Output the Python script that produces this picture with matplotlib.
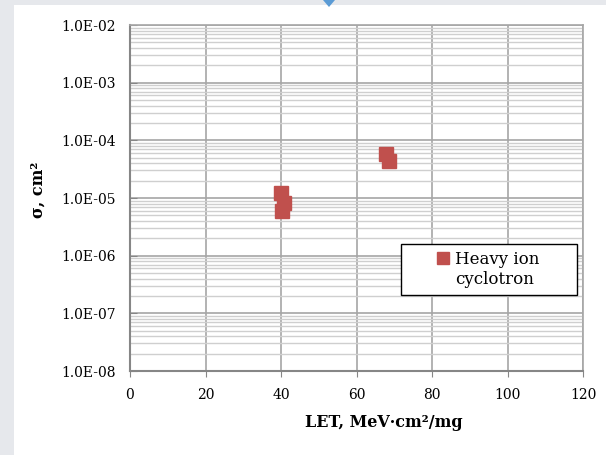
import numpy as np
import matplotlib.pyplot as plt
from matplotlib.patches import Rectangle, Polygon
from matplotlib.lines import Line2D
from matplotlib.ticker import LogLocator, FixedLocator, FuncFormatter

# data
let_values = [39.9, 40.8, 40.3, 67.8, 68.6]
cross_sections = [1.24e-5, 8.1e-6, 6.0e-6, 5.9e-5, 4.45e-5]
series_label = ["Heavy ion", "cyclotron"]
x_ticks = [0, 20, 40, 60, 80, 100, 120]

plt.rcParams['font.family'] = ['DejaVu Serif']

fig = plt.figure(figsize=(6.06, 4.55), dpi=100, facecolor='#e6e8ec')
# white slide panel behind the chart
fig.patches.append(Rectangle((14 / 606, 0), 1 - 14 / 606, 1 - 5 / 455,
                             transform=fig.transFigure, facecolor='white',
                             edgecolor='none', zorder=-2))
fig.patches.append(Polygon([(323 / 606, 1), (335 / 606, 1), (329 / 606, 1 - 7 / 455)],
                           closed=True, transform=fig.transFigure,
                           facecolor='#5b9bd5', edgecolor='none', zorder=-1))

ax = fig.add_axes([130 / 606, 1 - 371 / 455, 453 / 606, 346 / 455])
ax.set_facecolor('white')

pts, = ax.plot(let_values, cross_sections, linestyle='none', marker='s', markersize=9.5,
               color='#c0504d', markeredgecolor='#c0504d', zorder=3)

ax.set_yscale('log')
ax.set_xlim(0, 120)
ax.set_ylim(1e-8, 1e-2)
ax.xaxis.set_major_locator(FixedLocator(x_ticks))
ax.yaxis.set_major_locator(LogLocator(base=10, numticks=10))
ax.yaxis.set_minor_locator(LogLocator(base=10, subs=np.arange(2, 10), numticks=20))
ax.yaxis.set_minor_formatter(FuncFormatter(lambda v, p: ''))
ax.yaxis.set_major_formatter(FuncFormatter(lambda v, p: '1.0E-%02d' % round(-np.log10(v))))

ax.grid(True, which='major', color='#a6a6a6', linewidth=1.2)
ax.grid(True, which='minor', axis='y', color='#cfcfcf', linewidth=1.0)
ax.set_axisbelow(True)

for side in ['left', 'bottom']:
    ax.spines[side].set_color('#868686')
    ax.spines[side].set_linewidth(1.5)
for side in ['top', 'right']:
    ax.spines[side].set_color('#a6a6a6')
    ax.spines[side].set_linewidth(1.2)

ax.tick_params(axis='x', which='major', direction='out', length=4, color='#868686',
               labelsize=10, pad=8)
ax.tick_params(axis='y', which='major', direction='in', length=5, color='#868686',
               labelsize=10, pad=10)
ax.tick_params(axis='y', which='minor', length=0)

ax.set_xlabel('LET, MeV·cm²/mg', fontsize=11.5, fontweight='bold')
ax.xaxis.set_label_coords((384 - 130) / 453, -(414 - 371) / 346)
ax.set_ylabel('σ, cm²', fontsize=11.5, fontweight='bold')
ax.yaxis.set_label_coords(-(130 - 47) / 453, (371 - 190) / 346)

# legend box (frame drawn separately so it can be wider than its content)
box = [(401 - 130) / 453, (371 - 295) / 346, 176 / 453, 51 / 346]
ax.add_patch(Rectangle((box[0], box[1]), box[2], box[3], transform=ax.transAxes,
                       facecolor='white', edgecolor='black', linewidth=1.0, zorder=4))
blank = Line2D([], [], linestyle='none', marker='none')
leg = ax.legend([pts, blank], series_label, loc='center',
                bbox_to_anchor=(box[0] + box[2] / 2 - 0.002, box[1] + box[3] / 2),
                frameon=False, fontsize=12, handlelength=0.8, handletextpad=0.35,
                labelspacing=0.22, borderpad=0, markerscale=0.95)
leg.set_zorder(5)

fig.savefig('out.png', dpi=100, facecolor=fig.get_facecolor())
